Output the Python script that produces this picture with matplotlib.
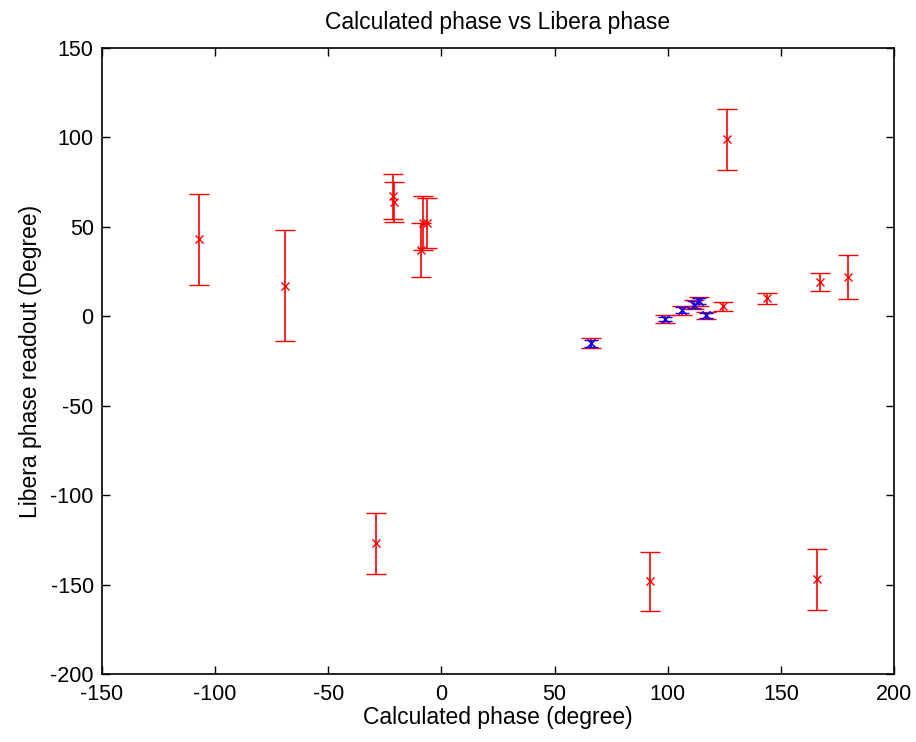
import matplotlib
matplotlib.use('Agg')
import matplotlib.pyplot as plt

# red series: all measurements
red_x = [-107, -69, -21.5, -21, -8, -6.5, -9, -29, 92, 166, 126, 124.5, 144, 167.5, 179.5,
         66, 99, 106.5, 111.5, 114, 117]
red_y = [43, 17, 67, 64, 52, 52, 37, -127, -148, -147, 99, 5.5, 10, 19, 22,
         -15, -1.5, 3.5, 6.5, 8.5, 0.5]
red_err = [25.5, 31, 12.5, 11, 15, 14, 15, 17, 16.5, 17, 17, 2.5, 3.2, 5, 12.3,
           2.8, 2, 2.5, 2.5, 2.5, 2]

# blue series: overlaid subset
blue_x = [66, 99, 106.5, 111.5, 114, 117]
blue_y = [-15, -1.5, 3.5, 6.5, 8.5, 0.5]
blue_err = [2, 1.3, 1.8, 1.8, 1.8, 1.3]

plt.rcParams['font.family'] = ['Liberation Sans', 'DejaVu Sans']
plt.rcParams['axes.unicode_minus'] = False

fig = plt.figure(figsize=(9.16, 7.42), dpi=100)
ax = fig.add_axes([0.1114, 0.0916, 0.8646, 0.8437])

ax.errorbar(red_x, red_y, yerr=red_err, fmt='x', color='red', ecolor='red',
            markersize=6, elinewidth=1.2, capsize=7, capthick=1.2, mew=1)
ax.errorbar(blue_x, blue_y, yerr=blue_err, fmt='x', color='blue', ecolor='blue',
            markersize=6, elinewidth=1.2, capsize=5, capthick=1.2, mew=1)

ax.set_xlim(-150, 200)
ax.set_ylim(-200, 150)
ax.set_xticks(range(-150, 201, 50))
ax.set_yticks(range(-200, 151, 50))
ax.tick_params(direction='in', top=True, right=True, labelsize=15.5, length=6, width=1)
ax.tick_params(axis='x', pad=7)
ax.tick_params(axis='y', pad=6)
for s in ax.spines.values():
    s.set_linewidth(1.2)

ax.set_title('Calculated phase vs Libera phase', fontsize=16.5, pad=14)
ax.set_xlabel('Calculated phase (degree)', fontsize=16.5, labelpad=1)
ax.set_ylabel('Libera phase readout (Degree)', fontsize=16.5, labelpad=6)

fig.savefig('out.png', dpi=100)
